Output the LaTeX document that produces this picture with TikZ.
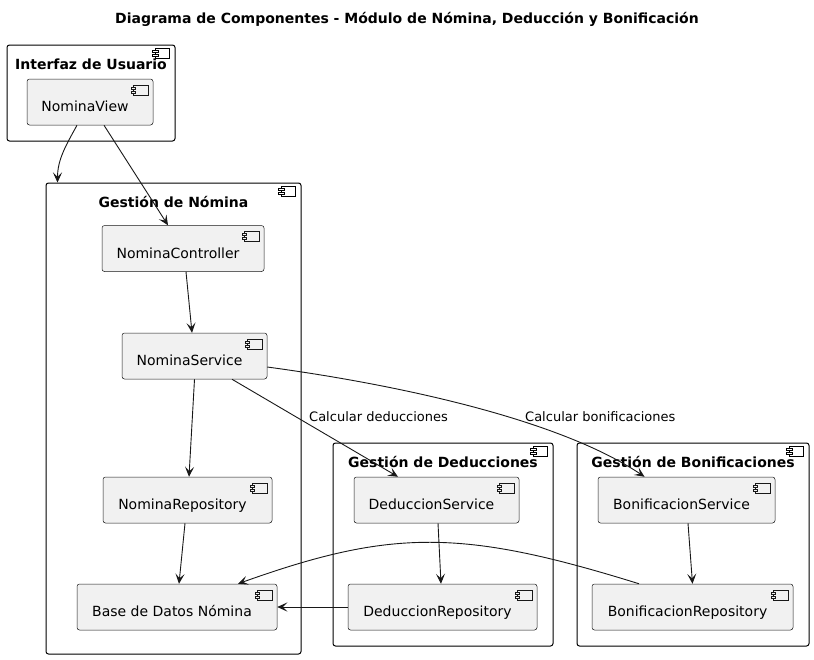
\documentclass[tikz,border=0pt]{standalone}
\usepackage{fontspec}
\setmainfont{DejaVu Sans}
\usetikzlibrary{calc}
\usetikzlibrary{positioning}
\usetikzlibrary{arrows.meta}
\definecolor{compFill}{HTML}{F1F1F1}
\definecolor{compLine}{HTML}{181818}
\definecolor{edgeLine}{HTML}{181818}

\tikzset{
    comp/.style={rectangle, draw=compLine, fill=compFill, line width=0.5pt, rounded corners=2.5pt, minimum height=46pt, inner sep=0pt, font=\fontsize{14}{16}\selectfont, text height=22pt, text depth=3pt},
    pkg/.style={rectangle, draw=black, fill=white, line width=1pt, rounded corners=2.5pt, inner sep=0pt},
    pkgtitle/.style={font=\fontsize{14}{16}\selectfont\bfseries, inner sep=0pt, anchor=base},
    edgelabel/.style={font=\fontsize{13}{15}\selectfont, inner sep=0pt, anchor=base west},
    flow/.style={draw=edgeLine, line width=0.9pt, -{Stealth[length=10pt, width=9pt, inset=4.5pt]}},
}

% component: name, text, x, y, width
\newcommand{\compbox}[5]{
    \node (#1) [comp, minimum width=#5pt] at (#3,#4) {#2\hspace*{10pt}};
    \draw [compLine, line width=0.4pt, fill=compFill] ([xshift=-20pt, yshift=-6pt]#1.north east) rectangle ++(15pt,-10pt);
    \draw [compLine, line width=0.4pt, fill=compFill] ([xshift=-22pt, yshift=-8pt]#1.north east) rectangle ++(4pt,-2pt);
    \draw [compLine, line width=0.4pt, fill=compFill] ([xshift=-22pt, yshift=-12pt]#1.north east) rectangle ++(4pt,-2pt);
}

% package: name, title, x, y, width, height
\newcommand{\pkgbox}[6]{
    \node (#1) [pkg, minimum width=#5pt, minimum height=#6pt] at (#3,#4) {};
    \node (#1_title) [pkgtitle] at ([yshift=-25pt]#1.north) {#2};
    \draw [black, line width=0.8pt, fill=white] ([xshift=-20pt, yshift=-4pt]#1.north east) rectangle ++(14pt,-10pt);
    \draw [black, line width=0.8pt, fill=white] ([xshift=-23pt, yshift=-6pt]#1.north east) rectangle ++(6pt,-2pt);
    \draw [black, line width=0.8pt, fill=white] ([xshift=-23pt, yshift=-10pt]#1.north east) rectangle ++(6pt,-2pt);
}

\begin{document}
\begin{tikzpicture}[x=1pt, y=-1pt]
    \useasboundingbox (0,0) rectangle (814,659);

    \node (title) [pkgtitle] at (407,23) {Diagrama de Componentes - Módulo de Nómina, Deducción y Bonificación};

    \pkgbox{pkg_ui}{Interfaz de Usuario}{91}{93}{168}{96}
    \pkgbox{pkg_nomina}{Gestión de Nómina}{173.5}{418.5}{255}{471}
    \pkgbox{pkg_ded}{Gestión de Deducciones}{443}{544.5}{220}{203}
    \pkgbox{pkg_bon}{Gestión de Bonificaciones}{693}{544.5}{232}{203}

    \compbox{nomina_view}{NominaView}{90}{102}{126}
    \compbox{nomina_ctrl}{NominaController}{183}{248.5}{162}
    \compbox{nomina_srv}{NominaService}{194.5}{356}{145}
    \compbox{nomina_repo}{NominaRepository}{187.5}{500}{169}
    \compbox{nomina_db}{Base de Datos Nómina}{177}{607}{200}
    \compbox{ded_srv}{DeduccionService}{436.5}{500}{165}
    \compbox{ded_repo}{DeduccionRepository}{442.5}{607}{189}
    \compbox{bon_srv}{BonificacionService}{686.5}{500}{177}
    \compbox{bon_repo}{BonificacionRepository}{692.5}{607}{201}

    \draw [flow] ([xshift=-13pt]nomina_view.south) .. controls +(-11,20) and +(0,-23) .. ([xshift=12pt]pkg_nomina.north west);
    \draw [flow] ([xshift=14pt]nomina_view.south) -- ([xshift=-15pt]nomina_ctrl.north);
    \draw [flow] ([xshift=3pt]nomina_ctrl.south) -- ([xshift=-2.5pt]nomina_srv.north);
    \draw [flow] (nomina_srv.south) -- ([xshift=1.5pt]nomina_repo.north);
    \draw [flow] ([xshift=37.5pt]nomina_srv.south) -- ([xshift=-38.5pt]ded_srv.north);
    \draw [flow] ([yshift=-11pt]nomina_srv.east) .. controls +(133,18) and +(-85,-57) .. ([xshift=-42pt]bon_srv.north);
    \draw [flow] ([xshift=-2.5pt]nomina_repo.south) -- ([xshift=2pt]nomina_db.north);
    \draw [flow] ([xshift=1.5pt]ded_srv.south) -- ([xshift=-1.5pt]ded_repo.north);
    \draw [flow] (ded_repo.west) -- (nomina_db.east);
    \draw [flow] ([xshift=1.5pt]bon_srv.south) -- (bon_repo.north);
    \draw [flow] ([xshift=-53.5pt]bon_repo.north) .. controls +(-177,-55) and +(154,-55) .. ([xshift=61pt]nomina_db.north);

    \node (lbl_ded) [edgelabel] at (309,421) {Calcular deducciones};
    \node (lbl_bon) [edgelabel] at (525,421) {Calcular bonificaciones};
\end{tikzpicture}
\end{document}
